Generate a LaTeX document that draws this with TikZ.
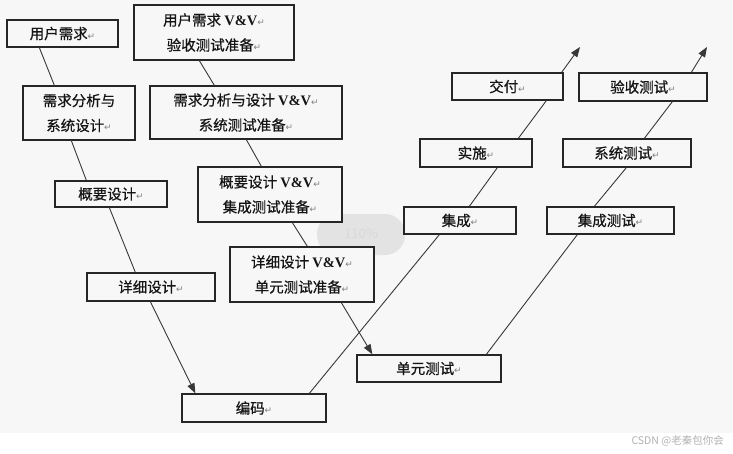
\documentclass[tikz,border=0pt]{standalone}
\usepackage{fontspec}
\setmainfont{Noto Sans CJK SC}[FakeBold=0.6]
\newfontfamily\wmfont{Noto Sans CJK SC}
\newfontfamily\dejavu{DejaVu Sans}
\newfontfamily\lserif{Liberation Serif}
\usetikzlibrary{arrows.meta,calc}
\definecolor{bgc}{HTML}{F7F7F7}
\definecolor{boxc}{HTML}{262626}
\definecolor{lnc}{HTML}{383838}
\definecolor{txc}{HTML}{151515}
\newcommand\retmark{{\fontsize{9}{9}\selectfont\dejavu\textcolor{gray}{↵}}}
\newcommand\vv{ {\lserif\bfseries V\&V}}
\tikzset{
  box/.style={draw=boxc, line width=1.3pt, fill=bgc, inner sep=0pt, align=center,
    text=txc, font=\fontsize{14.5}{25}\selectfont},
  ln/.style={draw=lnc, line width=0.9pt},
  arr/.style={ln, -{Triangle[length=10pt,width=7.5pt]}}
}
\begin{document}
\begin{tikzpicture}[x=1pt,y=-1pt]
\fill[white] (0,0) rectangle (733,453);
\fill[bgc] (0,0) rectangle (733,433);
\useasboundingbox (0,0) rectangle (733,453);
% faint overlay blob
\fill[black!11, rounded corners=20pt] (317,214) rectangle (405,255);
\node[text=black!15, font=\wmfont\fontsize{13}{13}\selectfont] (blobtxt) at (361,234) {110\%};
% left descending column
\node[box, minimum width=111pt, minimum height=27pt] (u1) at (62.5,33.5) {用户需求\retmark};
\node[box, minimum width=112pt, minimum height=54pt] (u2) at (79,113) {需求分析与\\系统设计\retmark};
\node[box, minimum width=112pt, minimum height=26pt] (u3) at (111,194) {概要设计\retmark};
\node[box, minimum width=128pt, minimum height=28pt] (u4) at (151,287) {详细设计\retmark};
% V&V column
\node[box, minimum width=160pt, minimum height=55pt] (v1) at (214,32.5) {用户需求\vv\retmark\\验收测试准备\retmark};
\node[box, minimum width=192pt, minimum height=53pt] (v2) at (246,112.5) {需求分析与设计\vv\retmark\\系统测试准备\retmark};
\node[box, minimum width=144pt, minimum height=55pt] (v3) at (270,194.5) {概要设计\vv\retmark\\集成测试准备\retmark};
\node[box, minimum width=144pt, minimum height=55pt] (v4) at (302,274.5) {详细设计\vv\retmark\\单元测试准备\retmark};
% bottom
\node[box, minimum width=144pt, minimum height=28pt] (code) at (254,408) {编码\retmark};
\node[box, minimum width=144pt, minimum height=27pt] (ut) at (429,368.5) {单元测试\retmark};
% rising left
\node[box, minimum width=112pt, minimum height=27pt] (jc) at (460,220.5) {集成\retmark};
\node[box, minimum width=112pt, minimum height=28pt] (ss) at (476,153) {实施\retmark};
\node[box, minimum width=111pt, minimum height=27pt] (jf) at (507.5,86.5) {交付\retmark};
% rising right
\node[box, minimum width=127pt, minimum height=27pt] (it) at (610.5,220.5) {集成测试\retmark};
\node[box, minimum width=128pt, minimum height=28pt] (st) at (627,153) {系统测试\retmark};
\node[box, minimum width=128pt, minimum height=28pt] (ys) at (643,87) {验收测试\retmark};
\coordinate (tipL) at (580,47);
\coordinate (tipR) at (707,47);
% descending line A
\draw[ln] ([xshift=33pt]u1.south west) -- ([xshift=32pt]u2.north west);
\draw[ln] ([xshift=49pt]u2.south west) -- ([xshift=32pt]u3.north west);
\draw[ln] ([xshift=55pt]u3.south west) -- ([xshift=49pt]u4.north west);
\draw[arr] ([xshift=64pt]u4.south west) -- ([xshift=14pt]code.north west);
% descending line B
\draw[ln] ([xshift=66pt]v1.south west) -- ([xshift=65pt]v2.north west);
\draw[ln] ([xshift=97pt]v2.south west) -- ([xshift=64pt]v3.north west);
\draw[ln] ([xshift=95pt]v3.south west) -- ([xshift=78pt]v4.north west);
\draw[arr] ([xshift=112pt]v4.south west) -- ([xshift=16pt]ut.north west);
% rising line C
\draw[ln] ([xshift=128pt]code.north west) -- ([xshift=36pt]jc.south west);
\draw[ln] ([xshift=66pt]jc.north west) -- ([xshift=78pt]ss.south west);
\draw[ln] ([xshift=99pt]ss.north west) -- ([xshift=95pt]jf.south west);
\draw[arr] ([xshift=-2pt]jf.north east) -- (tipL);
% rising line D
\draw[ln] ([xshift=130pt]ut.north west) -- ([xshift=31pt]it.south west);
\draw[ln] ([xshift=48pt]it.north west) -- ([xshift=64pt]st.south west);
\draw[ln] ([xshift=82pt]st.north west) -- ([xshift=94pt]ys.south west);
\draw[arr] ([xshift=113pt]ys.north west) -- (tipR);
% watermark
\node[anchor=east, text=black!30, font=\wmfont\fontsize{10.5}{10.5}\selectfont, inner sep=0pt] (wm) at (724,441) {CSDN @老秦包你会};
\end{tikzpicture}
\end{document}
